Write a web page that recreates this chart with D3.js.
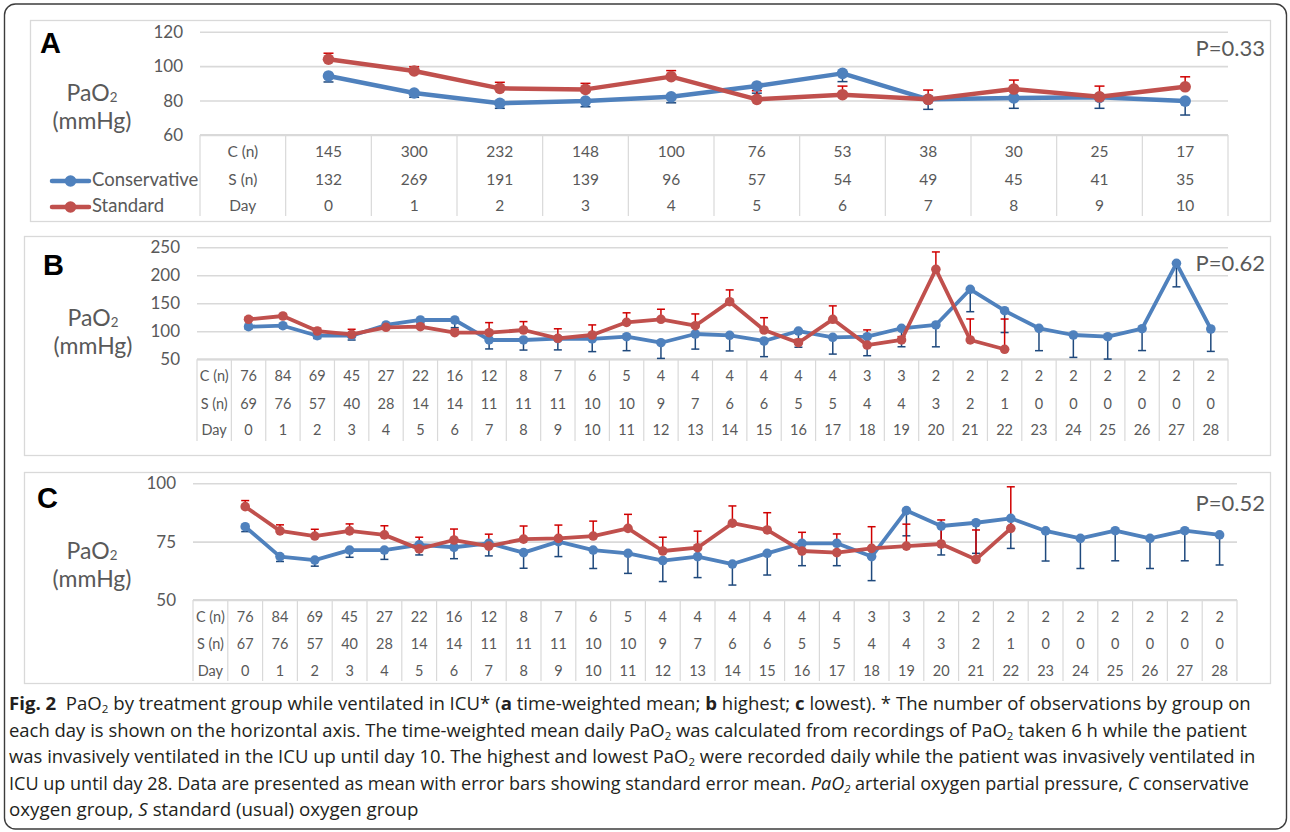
<!DOCTYPE html>
<html>
<head>
<meta charset="utf-8">
<script src="https://cdn.jsdelivr.net/npm/d3@7"></script>
<style>
  body { margin: 0; background: #fff; }
  svg { display: block; }
  text { white-space: pre; }
</style>
</head>
<body>
<svg id="fig" width="1290" height="832"></svg>
<script>
// ---- Panel A: time-weighted mean PaO2, days 0-10 ----
const daysA = ["0","1","2","3","4","5","6","7","8","9","10"];
const consNA = [145,300,232,148,100,76,53,38,30,25,17];
const stdNA  = [132,269,191,139,96,57,54,49,45,41,35];
const consA   = [94.3,84.4,78.4,79.7,82.2,88.5,95.8,80.7,81.5,81.9,79.7];
const consSeA = [3.5,2.5,2.9,3.3,3.5,4.2,4.8,5.8,6.0,6.4,8.1];
const stdA    = [104.0,97.2,87.1,86.5,93.9,80.7,83.4,80.7,86.7,82.2,88.0];
const stdSeA  = [3.5,2.5,3.5,3.5,3.5,5.0,5.0,5.4,5.2,6.2,5.8];
const ticksA = [60,80,100,120];

// ---- Panels B and C: days 0-28 ----
const daysBC = ["0","1","2","3","4","5","6","7","8","9","10","11","12","13","14",
                "15","16","17","18","19","20","21","22","23","24","25","26","27","28"];
const consNB = [76,84,69,45,27,22,16,12,8,7,6,5,4,4,4,4,4,4,3,3,2,2,2,2,2,2,2,2,2];
const stdNB  = [69,76,57,40,28,14,14,11,11,11,10,10,9,7,6,6,5,5,4,4,3,2,1,0,0,0,0,0,0];
const consNC = [76,84,69,45,27,22,16,12,8,7,6,5,4,4,4,4,4,4,3,3,2,2,2,2,2,2,2,2,2];
const stdNC  = [67,76,57,40,28,14,14,11,11,11,10,10,9,7,6,6,5,5,4,4,3,2,1,0,0,0,0,0,0];

// Panel B: highest daily PaO2
const consB   = [108.2,110,92.1,92.1,111.3,120.2,120.2,84.5,84.5,86.8,86.3,90.4,79.6,95.2,92.9,
                 82.7,100.5,89.3,90.4,105.4,111.3,175,136.8,105.4,93.4,90.4,104.6,221.4,104.1];
const consSeB = [4,4,5,7.7,5,5,13.7,16,18,20,22.6,25,28,27,28,28,29,30,34,33,39,40,39,40,40,40,39,42,40];
const stdB    = [121.4,127.3,100.5,94.6,107.1,108.2,97.5,97.5,102.3,87.5,93.4,116,121.4,110,152.9,
                 102.3,79.6,121.4,75.5,84.5,210.7,84.5,67.9,null,null,null,null,null,null];
const stdSeB  = [4,3,5,9,4,4,6,18,15,17,18,17,18,21,21,22,6,24,27,6,31,37.5,54,null,null,null,null,null,null];
const ticksB = [50,100,150,200,250];

// Panel C: lowest daily PaO2
const consC   = [81.4,68.6,67.1,71.4,71.4,73.6,72.6,74.3,70.3,75,71.4,70,66.9,68.6,65.4,
                 70,74.3,74.3,68.6,88.3,81.7,83.1,85,79.6,76.4,79.7,76.4,79.7,77.9];
const consSeC = [2.1,2.1,2.6,3.1,4,4.3,4.9,5.4,6.7,6.4,7.9,8.6,9,9,9,9.3,9.6,9.6,10.3,
                 10.8,12.4,13.1,12.9,12.9,12.9,12.9,12.9,12.9,12.9];
const stdC    = [90,79.6,77.4,79.6,77.9,71.9,75.7,73.1,76.1,76.4,77.4,80.7,71,72.4,82.9,
                 80,71,70.3,72.1,73.1,74,67.4,80.7,null,null,null,null,null,null];
const stdSeC  = [2.6,2.6,2.9,3,3.9,5,4.7,5.1,5.6,5.7,6.4,6,5.9,7.1,7.4,7.4,8,8,9.3,
                 9.4,10.3,12.6,17.8,null,null,null,null,null,null];
const ticksC = [50,75,100];

const rowLabels = ["C (n)","S (n)","Day"];
const seriesNames = ["Conservative","Standard"];

// ---- styling ----
const BLUE = "#4f81bd", RED = "#c0504d";
const BLUE_ERR = "#1f497d", RED_ERR = "#d00000";
const GRID = "#d9d9d9", TXT = "#595959";
const FONT = "Lato, 'Open Sans', sans-serif";

const svg = d3.select("#fig");

// outer frame
svg.append("rect")
  .attr("x", 4.5).attr("y", 4).attr("width", 1282).attr("height", 825)
  .attr("rx", 11).attr("fill", "#fff").attr("stroke", "#3c3c3c").attr("stroke-width", 1.4);

// two-line axis title: "PaO2" over "(mmHg)"
function pao2Label(g, cx, cy, size) {
  const t = g.append("text").attr("x", cx).attr("y", cy).attr("text-anchor", "middle")
    .attr("font-family", FONT).attr("font-size", size).attr("fill", TXT)
    .attr("dominant-baseline", "middle");
  t.append("tspan").text("PaO");
  t.append("tspan").text("2").attr("font-size", size * 0.58).attr("dy", size * 0.17);
  g.append("text").attr("x", cx).attr("y", cy + size * 1.22).attr("text-anchor", "middle")
    .attr("font-family", FONT).attr("font-size", size).attr("fill", TXT)
    .attr("dominant-baseline", "middle").text("(mmHg)");
}

function drawPanel(p) {
  const g = svg.append("g");
  g.append("rect").attr("x", p.box[0] + 0.5).attr("y", p.box[1] + 0.5)
    .attr("width", p.box[2]).attr("height", p.box[3])
    .attr("fill", "#fff").attr("stroke", GRID).attr("stroke-width", 1.3);

  const x = d3.scaleBand().domain(["_label", ...p.days]).range([p.x0, p.x1]).padding(0);
  const bw = x.bandwidth();
  const cx = d => x(d) + bw / 2;
  const y = d3.scaleLinear().domain([p.ticks[0], p.ticks[p.ticks.length - 1]]).range([p.yBottom, p.yTop]);

  // gridlines + tick labels
  const axis = d3.axisLeft(y).tickValues(p.ticks).tickSize(-(p.x1 - p.x0)).tickPadding(p.tickPad);
  const ag = g.append("g").attr("transform", `translate(${p.x0},0)`).call(axis);
  ag.select(".domain").remove();
  ag.selectAll(".tick line").attr("stroke", GRID).attr("stroke-width", 1.6);
  ag.selectAll(".tick text").attr("font-family", FONT).attr("font-size", p.tickFont)
    .attr("fill", TXT);

  // table grid beneath the plot
  const cols = ["_label", ...p.days];
  g.selectAll(".vline").data(cols.concat(["_end"])).enter().append("line")
    .attr("x1", (d, i) => p.x0 + i * bw).attr("x2", (d, i) => p.x0 + i * bw)
    .attr("y1", p.yBottom).attr("y2", p.tableBottom)
    .attr("stroke", GRID).attr("stroke-width", 1.2);
  g.append("line").attr("x1", p.x0).attr("x2", p.x1).attr("y1", y(p.ticks[0])).attr("y2", y(p.ticks[0]))
    .attr("stroke", GRID).attr("stroke-width", 2);

  const rows = [p.consN, p.stdN, p.days];
  rows.forEach((vals, r) => {
    g.append("text").attr("x", x("_label") + bw / 2).attr("y", p.rowY[r])
      .attr("text-anchor", "middle").attr("dominant-baseline", "middle")
      .attr("font-family", FONT).attr("font-size", p.tableFont).attr("fill", TXT)
      .text(rowLabels[r]);
    g.selectAll(null).data(vals).enter().append("text")
      .attr("x", (d, i) => cx(p.days[i])).attr("y", p.rowY[r])
      .attr("text-anchor", "middle").attr("dominant-baseline", "middle")
      .attr("font-family", FONT).attr("font-size", p.tableFont).attr("fill", TXT)
      .text(d => d);
  });

  // error bars: conservative shows the lower bar, standard the upper bar
  const errDefs = [
    { v: p.cons, se: p.consSe, sign: -1, color: BLUE_ERR },
    { v: p.std, se: p.stdSe, sign: 1, color: RED_ERR }
  ];
  errDefs.forEach(e => {
    const pts = p.days.map((d, i) => ({ d, v: e.v[i], se: e.se[i] })).filter(o => o.v != null);
    const eg = g.append("g").attr("stroke", e.color).attr("stroke-width", 1.5);
    eg.selectAll(null).data(pts).enter().append("line")
      .attr("x1", o => cx(o.d)).attr("x2", o => cx(o.d))
      .attr("y1", o => y(o.v)).attr("y2", o => y(o.v + e.sign * o.se));
    eg.selectAll(null).data(pts).enter().append("line")
      .attr("x1", o => cx(o.d) - p.cap / 2).attr("x2", o => cx(o.d) + p.cap / 2)
      .attr("y1", o => y(o.v + e.sign * o.se)).attr("y2", o => y(o.v + e.sign * o.se));
  });

  // lines + markers
  [{ v: p.cons, color: BLUE }, { v: p.std, color: RED }].forEach(s => {
    const pts = p.days.map((d, i) => ({ d, v: s.v[i] })).filter(o => o.v != null);
    const line = d3.line().x(o => cx(o.d)).y(o => y(o.v));
    g.append("path").attr("d", line(pts)).attr("fill", "none").attr("stroke", s.color)
      .attr("stroke-width", p.lineW).attr("stroke-linejoin", "round").attr("stroke-linecap", "round");
    g.selectAll(null).data(pts).enter().append("circle")
      .attr("cx", o => cx(o.d)).attr("cy", o => y(o.v)).attr("r", p.r).attr("fill", s.color);
  });

  // panel letter, axis title, p value
  g.append("text").attr("x", p.letterX).attr("y", p.letterY).attr("dominant-baseline", "middle")
    .attr("font-family", "'Liberation Sans', Arial, sans-serif").attr("font-weight", "bold")
    .attr("font-size", 29).attr("fill", "#000").text(p.letter);
  pao2Label(g, p.titleX, p.titleY, 23);
  g.append("text").attr("x", 1265).attr("y", p.pY).attr("text-anchor", "end")
    .attr("dominant-baseline", "middle").attr("font-family", FONT).attr("font-size", 22)
    .attr("fill", TXT).text(p.pText);

  return { g, x, y, bw };
}

drawPanel({
  letter: "A", letterX: 40, letterY: 45, titleX: 92, titleY: 95, pText: "P=0.33", pY: 50,
  box: [30, 20, 1240, 201], x0: 200, x1: 1228, yTop: 31.7, yBottom: 135,
  tableBottom: 216, rowY: [153, 181, 207],
  days: daysA, consN: consNA, stdN: stdNA,
  cons: consA, consSe: consSeA, std: stdA, stdSe: stdSeA, ticks: ticksA,
  tickFont: 17, tickPad: 17, tableFont: 15.5, lineW: 4.5, r: 5.8, cap: 10
});

drawPanel({
  letter: "B", letterX: 43, letterY: 267, titleX: 93, titleY: 320, pText: "P=0.62", pY: 265,
  box: [24, 236, 1246, 219], x0: 197, x1: 1228, yTop: 247.3, yBottom: 359.3,
  tableBottom: 441, rowY: [377.3, 405, 431.7],
  days: daysBC, consN: consNB, stdN: stdNB,
  cons: consB, consSe: consSeB, std: stdB, stdSe: stdSeB, ticks: ticksB,
  tickFont: 17, tickPad: 17, tableFont: 14.5, lineW: 3.8, r: 4.8, cap: 8
});

drawPanel({
  letter: "C", letterX: 37, letterY: 500, titleX: 92, titleY: 553, pText: "P=0.52", pY: 505,
  box: [24, 472, 1246, 211], x0: 193, x1: 1237, yTop: 483.3, yBottom: 600,
  tableBottom: 681, rowY: [618.3, 645, 672],
  days: daysBC, consN: consNC, stdN: stdNC,
  cons: consC, consSe: consSeC, std: stdC, stdSe: stdSeC, ticks: ticksC,
  tickFont: 17, tickPad: 17, tableFont: 14.5, lineW: 3.8, r: 4.8, cap: 8
});

// legend (panel A, beside the n rows)
const legend = svg.append("g");
[[BLUE, 181], [RED, 207]].forEach(([c, ly], i) => {
  legend.append("line").attr("x1", 52).attr("x2", 89).attr("y1", ly).attr("y2", ly)
    .attr("stroke", c).attr("stroke-width", 4.5).attr("stroke-linecap", "round");
  legend.append("circle").attr("cx", 70.5).attr("cy", ly).attr("r", 5.8).attr("fill", c);
  legend.append("text").attr("x", 92).attr("y", ly).attr("dominant-baseline", "middle")
    .attr("font-family", FONT).attr("font-size", 18.5).attr("fill", TXT).text(seriesNames[i]);
});

// figure caption
const caption = [
  [["Fig. 2","b"],["  PaO","n"],["2","s"],[" by treatment group while ventilated in ICU* (","n"],["a","b"],
   [" time-weighted mean; ","n"],["b","b"],[" highest; ","n"],["c","b"],
   [" lowest). * The number of observations by group on","n"]],
  [["each day is shown on the horizontal axis. The time-weighted mean daily PaO","n"],["2","s"],
   [" was calculated from recordings of PaO","n"],["2","s"],[" taken 6 h while the patient","n"]],
  [["was invasively ventilated in the ICU up until day 10. The highest and lowest PaO","n"],["2","s"],
   [" were recorded daily while the patient was invasively ventilated in","n"]],
  [["ICU up until day 28. Data are presented as mean with error bars showing standard error mean. ","n"],
   ["PaO","i"],["2","is"],[" arterial oxygen partial pressure, ","n"],["C","i"],[" conservative","n"]],
  [["oxygen group, ","n"],["S","i"],[" standard (usual) oxygen group","n"]]
];
const capWidths = [1242, 1239, 1247, 1241, 410];
const CAP_FONT = "'Open Sans', 'Noto Sans', sans-serif";
const CAP_SIZE = 18.5, SUB_SIZE = 11.5, SUB_DY = 3.3;
caption.forEach((segs, li) => {
  const t = svg.append("text").attr("x", 0).attr("y", 0)
    .attr("font-family", CAP_FONT).attr("font-size", CAP_SIZE).attr("fill", "#231f20");
  let shifted = false;
  segs.forEach(([txt, style]) => {
    const ts = t.append("tspan").text(txt);
    if (style === "b") ts.attr("font-weight", "bold");
    if (style === "i" || style === "is") ts.attr("font-style", "italic");
    if (style === "s" || style === "is") {
      ts.attr("font-size", SUB_SIZE).attr("dy", SUB_DY); shifted = true;
    } else if (shifted) {
      ts.attr("dy", -SUB_DY); shifted = false;
    }
  });
  // condense the line horizontally so it spans its set width
  const natural = t.node().getComputedTextLength();
  const sx = capWidths[li] / natural;
  t.attr("transform", `translate(9,${710 + li * 26.5}) scale(${sx},1)`);
});
</script>
</body>
</html>
